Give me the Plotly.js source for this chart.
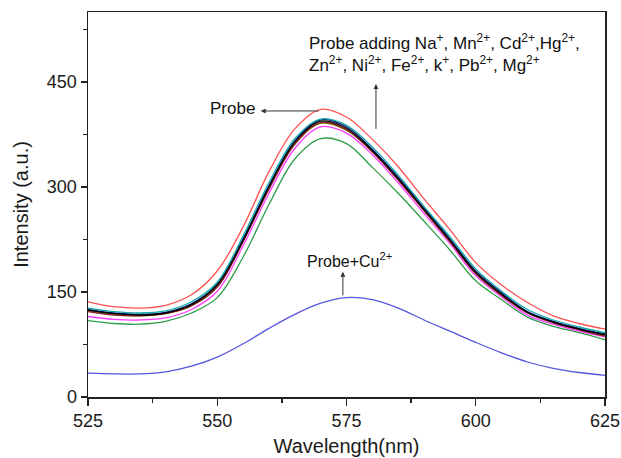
<!DOCTYPE html>
<html><head><meta charset="utf-8">
<script src="https://cdn.plot.ly/plotly-3.0.1.min.js"></script>
<style>html,body{margin:0;padding:0;background:#fff}#chart{width:621px;height:458px}</style>
</head><body><div id="chart"></div>
<script>
const wavelength = [525,530,535,540,545,550,555,560,565,570,575,580,585,590,595,600,605,610,615,620,625];
const probeBlack   = [124,119,117,120,132,160,224,300,364,394,384,352,312,268,224,178,147,121,107,97,89];
const probeTeal    = [127,122,120,123,136,164,230,306,369,397,388,357,317,272,229,183,151,125,110,100,92];
const probeNavy    = [125,120,118,121,133,161,226,302,366,396,386,354,314,270,226,180,149,122,108,98,90];
const probeBrown   = [122,117,116,119,130,157,222,297,361,392,382,350,310,266,222,176,145,120,106,96,87];
const probeOlive   = [123,118,116,119,131,158,223,299,362,391,381,351,311,267,223,177,146,121,107,97,88];
const probeMagenta = [115,111,110,113,125,151,216,291,355,386,377,346,306,262,219,173,143,117,104,94,86];
const probeRed     = [136,129,127,131,146,180,243,322,383,411,400,368,329,283,239,192,160,135,116,105,97];
const probeGreen   = [109,105,104,108,120,142,200,275,340,369,362,328,291,251,210,166,139,114,101,92,82];
const probeCu      = [34,33,33,36,44,57,76,98,118,134,142,139,127,110,94,78,63,50,41,35,31];

const seriesList = [
  {y: probeGreen, color: '#2e9e4a'},
  {y: probeMagenta, color: '#ff3cff'},
  {y: probeOlive, color: '#9a8a20'},
  {y: probeBrown, color: '#802020'},
  {y: probeNavy, color: '#1a1a80'},
  {y: probeTeal, color: '#10a8a8'},
  {y: probeBlack, color: '#000000'},
  {y: probeRed, color: '#ff5050'},
  {y: probeCu, color: '#5555e0'}
];
const traces = seriesList.map(s => ({
  x: wavelength, y: s.y, type: 'scatter', mode: 'lines',
  line: {color: s.color, width: 1.3, shape: 'spline', smoothing: 1},
  hoverinfo: 'skip', showlegend: false
}));

const fam = 'Liberation Sans, Arial, sans-serif';
const layout = {
  width: 621, height: 458,
  margin: {l: 88, r: 16, t: 12, b: 61},
  paper_bgcolor: '#fff', plot_bgcolor: '#fff',
  font: {family: fam, color: '#1a1a1a', size: 17},
  xaxis: {
    range: [525, 625], tick0: 525, dtick: 25, ticks: 'outside', ticklen: 7, tickwidth: 1.3,
    tickcolor: '#222', showline: true, linecolor: '#222', linewidth: 1.5, mirror: true,
    showgrid: false, zeroline: false,
    minor: {dtick: 12.5, ticks: 'outside', ticklen: 4, tickcolor: '#222', showgrid: false},
    tickfont: {size: 18, family: fam},
    title: {text: 'Wavelength(nm)', font: {size: 20, family: fam}, standoff: 9}
  },
  yaxis: {
    range: [0, 550], tick0: 0, dtick: 150, ticks: 'outside', ticklen: 6, tickwidth: 1.3,
    tickcolor: '#222', showline: true, linecolor: '#222', linewidth: 1.5, mirror: true,
    showgrid: false, zeroline: false,
    minor: {dtick: 75, ticks: 'outside', ticklen: 4, tickcolor: '#222', showgrid: false},
    tickfont: {size: 18, family: fam},
    title: {text: 'Intensity (a.u.)', font: {size: 20, family: fam}, standoff: 13}
  },
  annotations: [
    {x: 558.4, y: 408.6, ax: 569.9, ay: 408.6, axref: 'x', ayref: 'y', xref: 'x', yref: 'y',
     text: '', showarrow: true, arrowhead: 2, arrowsize: 1, arrowwidth: 1, arrowcolor: '#333'},
    {x: 553.0, y: 412, xref: 'x', yref: 'y', text: 'Probe', showarrow: false,
     font: {size: 17, family: fam, color: '#111'}},
    {x: 580.7, y: 447, ax: 580.7, ay: 381, axref: 'x', ayref: 'y', xref: 'x', yref: 'y',
     text: '', showarrow: true, arrowhead: 2, arrowsize: 1, arrowwidth: 1, arrowcolor: '#333'},
    {x: 567.4, y: 491, xref: 'x', yref: 'y', xanchor: 'left', yanchor: 'middle', align: 'left',
     text: 'Probe adding Na<sup>+</sup>, Mn<sup>2+</sup>, Cd<sup>2+</sup>,Hg<sup>2+</sup>,<br>Zn<sup>2+</sup>, Ni<sup>2+</sup>, Fe<sup>2+</sup>, k<sup>+</sup>, Pb<sup>2+</sup>, Mg<sup>2+</sup>',
     showarrow: false, font: {size: 17, family: fam, color: '#111'}},
    {x: 574.3, y: 179, ax: 574.3, ay: 143, axref: 'x', ayref: 'y', xref: 'x', yref: 'y',
     text: '', showarrow: true, arrowhead: 2, arrowsize: 1, arrowwidth: 1, arrowcolor: '#333'},
    {x: 575.5, y: 196, xref: 'x', yref: 'y', text: 'Probe+Cu<sup>2+</sup>', showarrow: false,
     font: {size: 16, family: fam, color: '#111'}}
  ]
};
Plotly.newPlot('chart', traces, layout, {staticPlot: true});
</script></body></html>
